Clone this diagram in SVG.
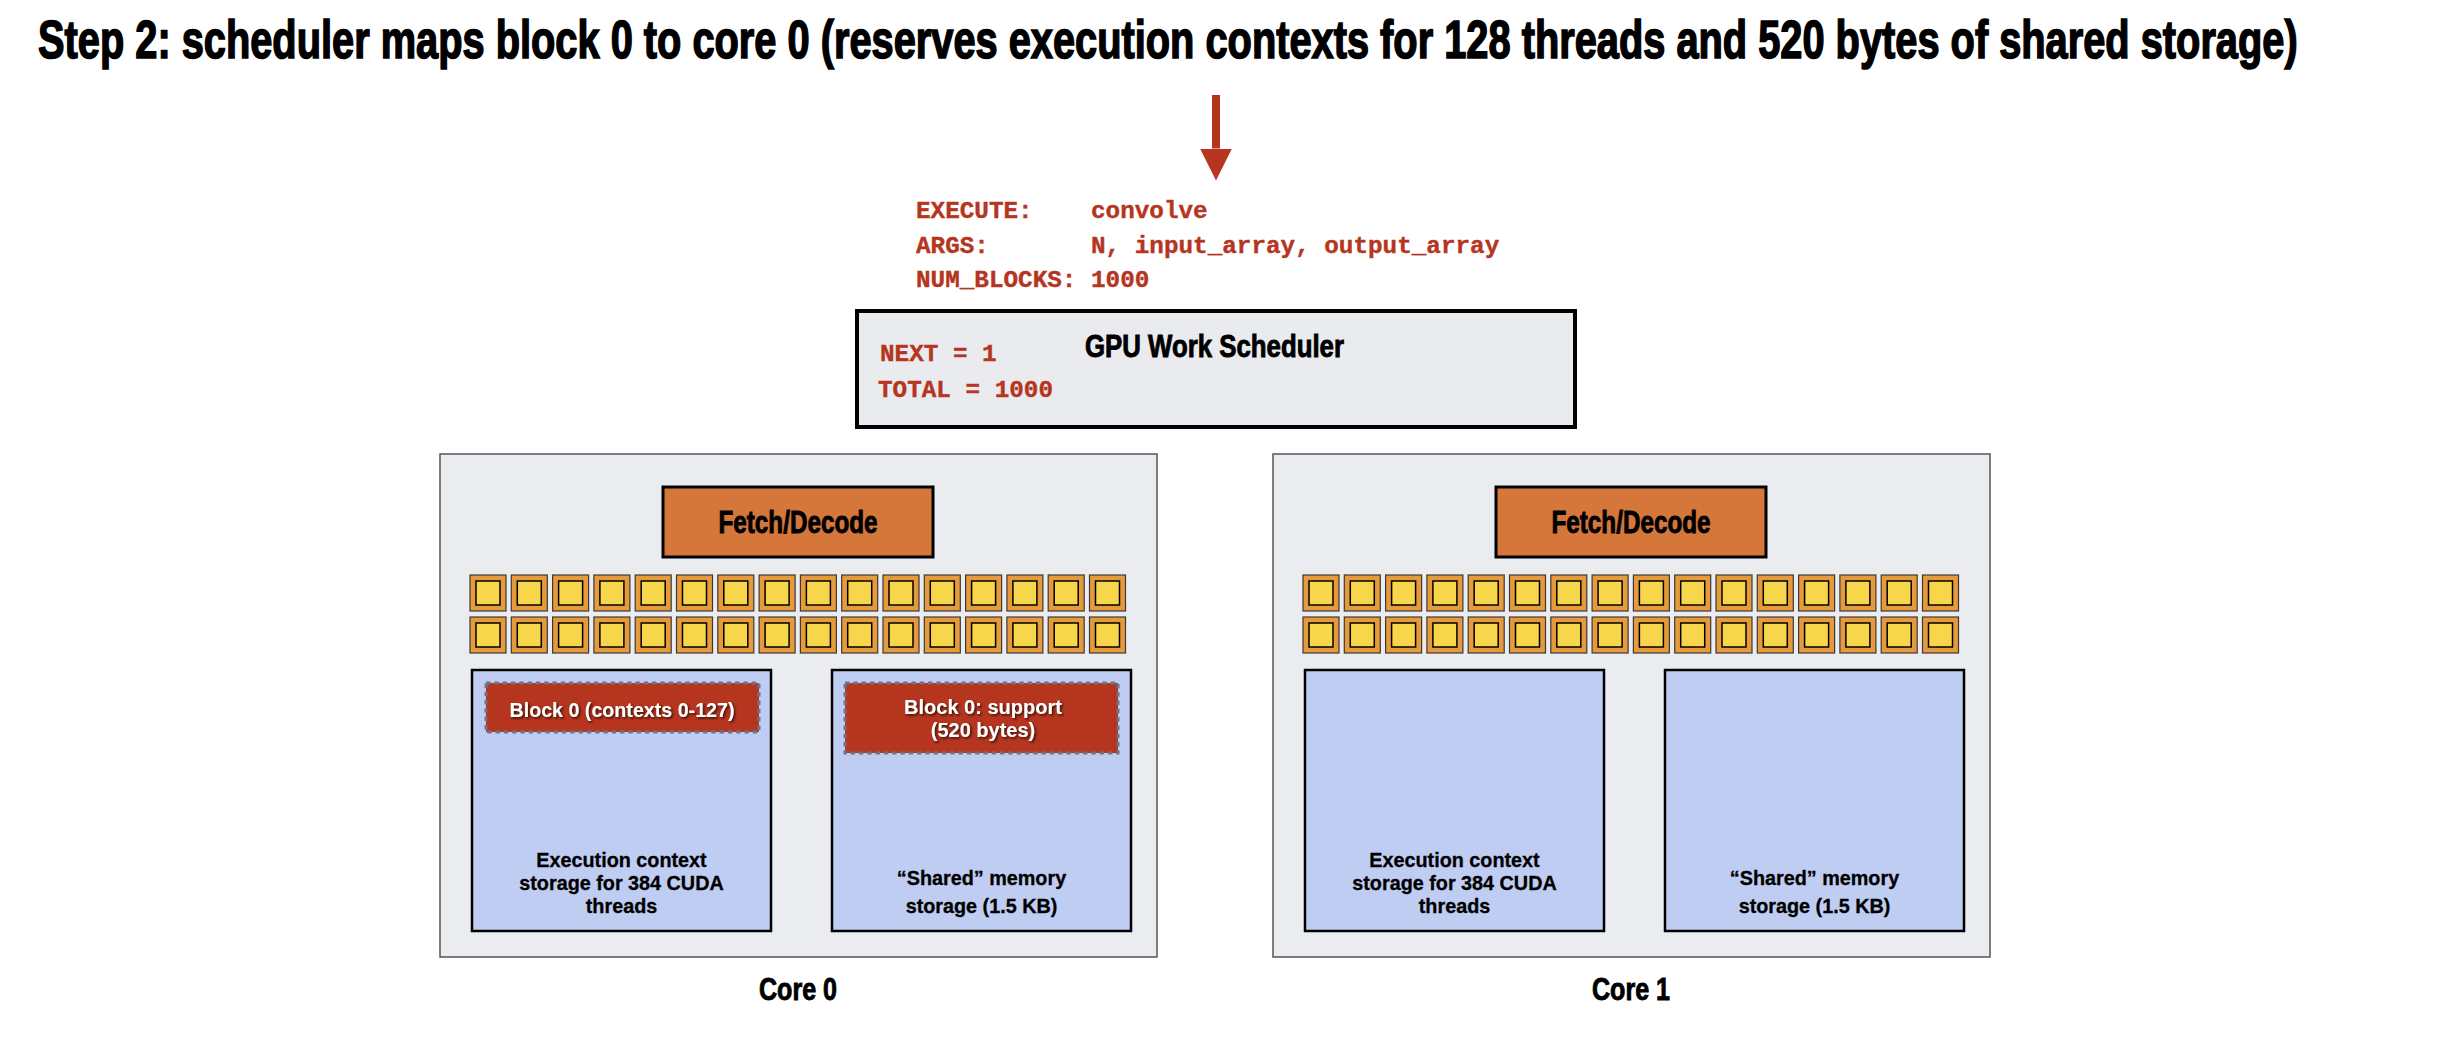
<svg xmlns="http://www.w3.org/2000/svg" width="2462" height="1038" viewBox="0 0 2462 1038">
<style>
.title{font-family:"Liberation Sans",Arial,sans-serif;font-weight:bold;font-size:54px;fill:#000;stroke:#000;stroke-width:1.6}
.mono{font-family:"Liberation Mono","DejaVu Sans Mono",monospace;font-weight:bold;font-size:24.3px;fill:#B5351F;stroke:#B5351F;stroke-width:0.4}
.hdr{font-family:"Liberation Sans",Arial,sans-serif;font-weight:bold;font-size:31px;fill:#000;stroke:#000;stroke-width:0.9}
.core{fill:#EBECF0;stroke:#555;stroke-width:1.5}
.fetch{fill:#D5763A;stroke:#000;stroke-width:3}
.store{fill:#BFCDF2;stroke:#000;stroke-width:2.5}
.lbl{font-family:"Liberation Sans",Arial,sans-serif;font-weight:bold;font-size:19.8px;fill:#000;text-anchor:middle;stroke:#000;stroke-width:0.3}
.blk{fill:#B5351F;stroke:#6C7488;stroke-width:3;stroke-dasharray:4.5 3.8}
.btxt{font-family:"Liberation Sans",Arial,sans-serif;font-weight:bold;font-size:20px;fill:#fff;text-anchor:middle}
.alu-o{fill:#E69A3A;stroke:#3a3a3a;stroke-width:1.2}
.alu-i{fill:#F8D64C;stroke:#000;stroke-width:1.5}
.sched{fill:#EAEBEF;stroke:#000;stroke-width:4}
</style>
<defs>
<marker id="ah" viewBox="0 0 32 32" markerWidth="32" markerHeight="32" refX="0" refY="16" markerUnits="userSpaceOnUse" orient="auto">
<path d="M0,0 L32,16 L0,32 z" fill="#B5351F"/>
</marker>
<filter id="sh" x="-10%" y="-30%" width="120%" height="160%">
<feDropShadow dx="1.5" dy="1.5" stdDeviation="0.8" flood-color="#2a0a05" flood-opacity="0.9"/>
</filter>
<g id="alu">
<rect class="alu-o" x="0" y="0" width="36" height="36"/>
<rect class="alu-i" x="6" y="6" width="24" height="24"/>
</g>
<g id="alurow">
<use href="#alu" x="0"/><use href="#alu" x="41.3"/><use href="#alu" x="82.6"/><use href="#alu" x="123.9"/>
<use href="#alu" x="165.2"/><use href="#alu" x="206.5"/><use href="#alu" x="247.8"/><use href="#alu" x="289.1"/>
<use href="#alu" x="330.4"/><use href="#alu" x="371.7"/><use href="#alu" x="413"/><use href="#alu" x="454.3"/>
<use href="#alu" x="495.6"/><use href="#alu" x="536.9"/><use href="#alu" x="578.2"/><use href="#alu" x="619.5"/>
</g>
</defs>
<rect width="2462" height="1038" fill="#fff"/>

<text id="title" class="title" transform="translate(38,58) scale(0.665,1)" x="0" y="0" textLength="3398" lengthAdjust="spacingAndGlyphs">Step 2: scheduler maps block 0 to core 0 (reserves execution contexts for 128 threads and 520 bytes of shared storage)</text>

<g id="connectors">
<line x1="1216" y1="95" x2="1216" y2="148.5" stroke="#B5351F" stroke-width="8" marker-end="url(#ah)"/>
</g>

<g id="launch">
<text class="mono" x="916" y="218">EXECUTE:</text><text class="mono" x="1091" y="218">convolve</text>
<text class="mono" x="916" y="253">ARGS:</text><text class="mono" x="1091" y="253">N, input_array, output_array</text>
<text class="mono" x="916" y="287">NUM_BLOCKS:</text><text class="mono" x="1091" y="287">1000</text>
</g>

<g id="scheduler">
<rect class="sched" x="857" y="311" width="718" height="116"/>
<text class="mono" x="880" y="361">NEXT = 1</text>
<text class="mono" x="878" y="397">TOTAL = 1000</text>
<text class="hdr" x="1085" y="357" textLength="259" lengthAdjust="spacingAndGlyphs">GPU Work Scheduler</text>
</g>

<g id="core0">
<rect class="core" x="440" y="454" width="717" height="503"/>
<rect class="fetch" x="663" y="487" width="270" height="70"/>
<text class="hdr" x="798" y="533" text-anchor="middle" textLength="159" lengthAdjust="spacingAndGlyphs">Fetch/Decode</text>
<use href="#alurow" x="470" y="575"/>
<use href="#alurow" x="470" y="617"/>
<rect class="store" x="472" y="670" width="299" height="261"/>
<rect class="store" x="832" y="670" width="299" height="261"/>
<text class="lbl" x="621.5" y="867">Execution context</text>
<text class="lbl" x="621.5" y="890">storage for 384 CUDA</text>
<text class="lbl" x="621.5" y="913">threads</text>
<text class="lbl" x="981.5" y="885">“Shared” memory</text>
<text class="lbl" x="981.5" y="913">storage (1.5 KB)</text>
<text class="hdr" x="798" y="1000" text-anchor="middle" textLength="78" lengthAdjust="spacingAndGlyphs">Core 0</text>
</g>

<g id="block0-contexts">
<rect class="blk" x="486" y="683" width="273" height="49"/>
<text class="btxt" x="622" y="717" textLength="225" lengthAdjust="spacingAndGlyphs" filter="url(#sh)">Block 0 (contexts 0-127)</text>
</g>

<g id="block0-support">
<rect class="blk" x="845" y="683" width="273" height="70"/>
<text class="btxt" x="983" y="714" filter="url(#sh)">Block 0: support</text>
<text class="btxt" x="983" y="737" filter="url(#sh)">(520 bytes)</text>
</g>

<g id="core1">
<rect class="core" x="1273" y="454" width="717" height="503"/>
<rect class="fetch" x="1496" y="487" width="270" height="70"/>
<text class="hdr" x="1631" y="533" text-anchor="middle" textLength="159" lengthAdjust="spacingAndGlyphs">Fetch/Decode</text>
<use href="#alurow" x="1303" y="575"/>
<use href="#alurow" x="1303" y="617"/>
<rect class="store" x="1305" y="670" width="299" height="261"/>
<rect class="store" x="1665" y="670" width="299" height="261"/>
<text class="lbl" x="1454.5" y="867">Execution context</text>
<text class="lbl" x="1454.5" y="890">storage for 384 CUDA</text>
<text class="lbl" x="1454.5" y="913">threads</text>
<text class="lbl" x="1814.5" y="885">“Shared” memory</text>
<text class="lbl" x="1814.5" y="913">storage (1.5 KB)</text>
<text class="hdr" x="1631" y="1000" text-anchor="middle" textLength="78" lengthAdjust="spacingAndGlyphs">Core 1</text>
</g>
</svg>
